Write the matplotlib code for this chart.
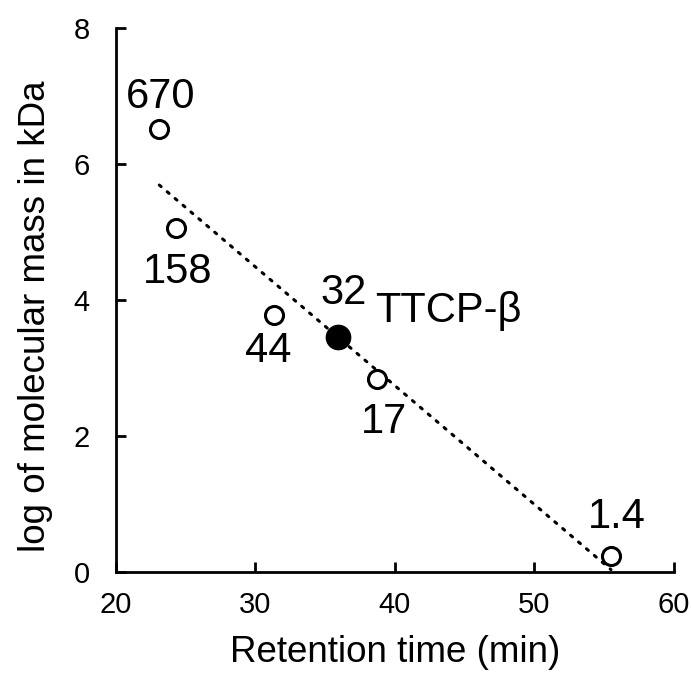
import numpy as np
import matplotlib.pyplot as plt

plt.rcParams['font.family'] = ['Liberation Sans', 'DejaVu Sans']

# standards: retention time (min) vs log of molecular mass (kDa)
std_time = [23.1, 24.3, 31.3, 38.7, 55.5]
std_logmass = [6.51, 5.06, 3.78, 2.83, 0.23]
std_labels = ['670', '158', '44', '17', '1.4']

# sample
ttcp_time = 35.9
ttcp_logmass = 3.45
ttcp_label = '32'
ttcp_name = 'TTCP-\u03b2'

fig = plt.figure(figsize=(6.91, 6.75), dpi=100)
ax = fig.add_axes([0.168, 0.153, 0.807, 0.806])

# linear fit through the standards
k, b = np.polyfit(std_time, std_logmass, 1)
xs = np.array([min(std_time), max(std_time)])
ax.plot(xs, k * xs + b, color='black', lw=2.2, linestyle=(0, (0.8, 2.6)),
        dash_capstyle='round', zorder=1)

ax.plot(std_time, std_logmass, 'o', ms=13, mfc='white', mec='black', mew=2.2, zorder=3)
ax.plot([ttcp_time], [ttcp_logmass], 'o', ms=17.5, mfc='black', mec='black', zorder=3)

# label offsets in points
offsets = [(1, 23), (1, -32), (-4, -26), (5, -31), (4, 28)]
for x, y, lab, off in zip(std_time, std_logmass, std_labels, offsets):
    ax.annotate(lab, (x, y), xytext=off, textcoords='offset points',
                ha='center', va='center', fontsize=30)
ax.annotate(ttcp_label, (ttcp_time, ttcp_logmass), xytext=(4, 32),
            textcoords='offset points', ha='center', va='center', fontsize=30)
ax.annotate(ttcp_name, (ttcp_time, ttcp_logmass), xytext=(27, 19),
            textcoords='offset points', ha='left', va='center', fontsize=30)

ax.set_xlim(20, 60)
ax.set_ylim(0, 8)
ax.set_xticks([20, 30, 40, 50, 60])
ax.set_yticks([0, 2, 4, 6, 8])
ax.spines['top'].set_visible(False)
ax.spines['right'].set_visible(False)
for s in ('left', 'bottom'):
    ax.spines[s].set_linewidth(2)
ax.tick_params(direction='in', length=7, width=2, labelsize=21)
ax.tick_params(axis='x', pad=14)
ax.tick_params(axis='y', pad=19)

ax.set_xlabel('Retention time (min)', fontsize=26.5)
ax.set_ylabel('log of molecular mass in kDa', fontsize=26.5)
ax.xaxis.set_label_coords(0.5, -0.117)
ax.yaxis.set_label_coords(-0.113, 0.47)

fig.savefig('out.png', dpi=100)
